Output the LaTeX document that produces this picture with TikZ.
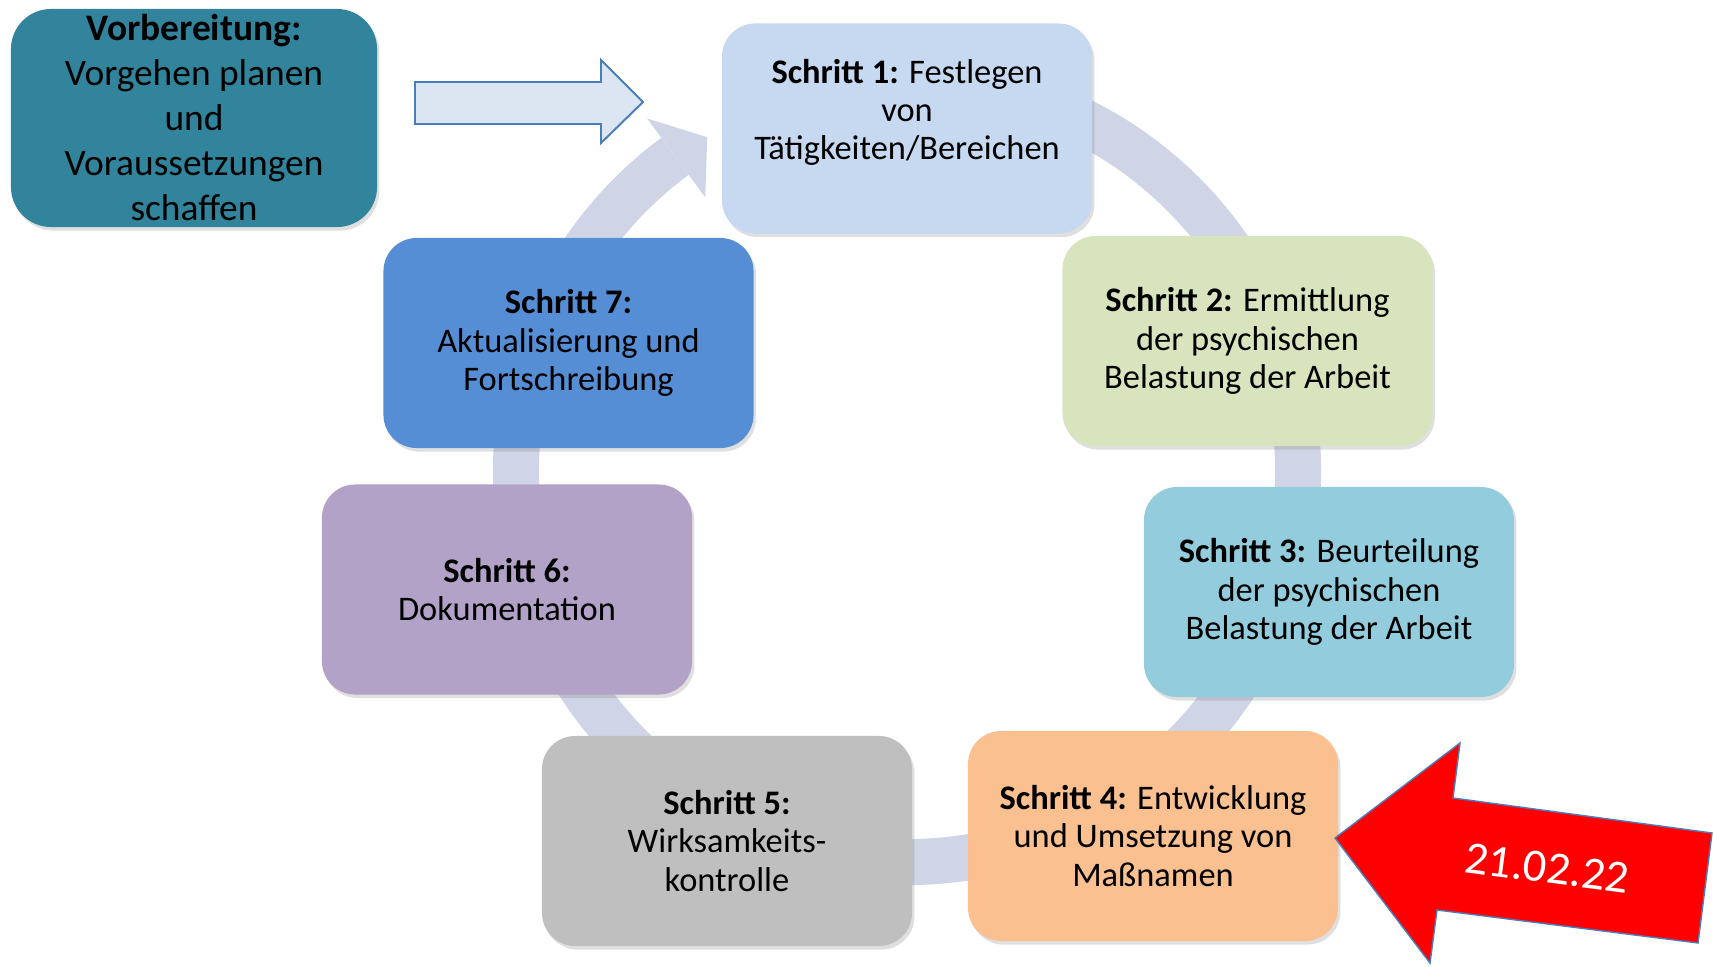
\documentclass[tikz,border=0pt]{standalone}
\usepackage{fontspec}
\setmainfont{Carlito}
\usetikzlibrary{shadows}

\definecolor{vorbcol}{HTML}{31849B}
\definecolor{einscol}{HTML}{C6D9F1}
\definecolor{zweicol}{HTML}{D7E4BD}
\definecolor{dreicol}{HTML}{93CDDD}
\definecolor{viercol}{HTML}{FAC090}
\definecolor{fuenfcol}{HTML}{BFBFBF}
\definecolor{sechscol}{HTML}{B3A2C7}
\definecolor{siebencol}{HTML}{558ED5}
\definecolor{ringcol}{HTML}{CFD5E6}
\definecolor{pfeilcol}{HTML}{DCE6F2}
\definecolor{randcol}{HTML}{4A7EBB}

\begin{document}
\begin{tikzpicture}[x=0.025cm,y=0.025cm,
  stepbox/.style={rounded corners=0.83cm,minimum width=9.25cm,minimum height=5.25cm,
    align=center,font=\fontsize{24.5}{27.2}\selectfont,
    drop shadow={opacity=0.25,shadow xshift=0.06cm,shadow yshift=-0.09cm}},
  ring/.style={draw=ringcol,line width=1.15cm}]
\useasboundingbox (0,0) rectangle (1714,-966);
% Kreislauf hinter den Schritten
\begin{scope}[shift={(907,-471)}]
\draw[ring] (80:391) arc[start angle=80,end angle=-233.6,radius=391];
\fill[ringcol] (126.4:438) -- (120.9:389) -- (126.4:340) -- cycle;
\end{scope}
% Schritte
\node[stepbox,fill=einscol] (s1) at (907,-128.5) {\textbf{Schritt 1:} Festlegen\\ von\\ Tätigkeiten/Bereichen\\ \mbox{}};
\node[stepbox,fill=zweicol] (s2) at (1247.5,-341) {\textbf{Schritt 2:} Ermittlung\\ der psychischen\\ Belastung der Arbeit};
\node[stepbox,fill=dreicol] (s3) at (1329,-592) {\textbf{Schritt 3:} Beurteilung\\ der psychischen\\ Belastung der Arbeit};
\node[stepbox,fill=viercol] (s4) at (1153,-836) {\textbf{Schritt 4:} Entwicklung\\ und Umsetzung von\\ Maßnamen};
\node[stepbox,fill=fuenfcol] (s5) at (727,-841) {\textbf{Schritt 5:}\\ Wirksamkeits-\\ kontrolle};
\node[stepbox,fill=sechscol] (s6) at (507,-589.5) {\textbf{Schritt 6:}\\ Dokumentation};
\node[stepbox,fill=siebencol] (s7) at (568.5,-343) {\textbf{Schritt 7:}\\ Aktualisierung und\\ Fortschreibung};
% Vorbereitung
\node[stepbox,fill=vorbcol,rounded corners=1cm,minimum width=9.15cm,minimum height=5.45cm,
  font=\fontsize{26.6}{32}\selectfont] (vorb) at (194,-118) {\textbf{Vorbereitung:}\\ Vorgehen planen\\ und\\ Voraussetzungen\\ schaffen};
% Blockpfeil zu Schritt 1
\draw[fill=pfeilcol,draw=randcol,line width=1.4pt,line join=miter]
  (415,-82) -- (601,-82) -- (601,-60) -- (643,-102) -- (601,-143) -- (601,-124) -- (415,-124) -- cycle;
% roter Pfeil mit Datum
\draw[fill=red,draw=randcol,line width=1pt]
  (1335,-838) -- (1460,-743) -- (1453,-798) -- (1712,-833) -- (1698,-943) -- (1437,-910) -- (1430,-963) -- cycle;
\node[text=white,rotate=-7.5,font=\fontsize{33}{40}\selectfont] (datum) at (1547,-868) {21.02.22};
\end{tikzpicture}
\end{document}
